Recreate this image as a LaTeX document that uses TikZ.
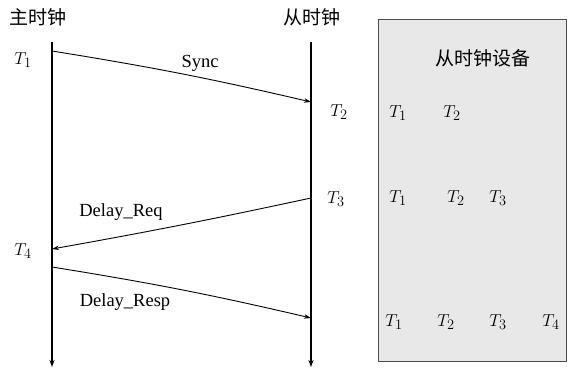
\documentclass[tikz,border=0pt]{standalone}
\usepackage{fontspec}
\setmainfont{Liberation Serif}
\newfontfamily\cjk{Noto Sans CJK SC}
\usetikzlibrary{arrows.meta}
\begin{document}
\begin{tikzpicture}[x=1pt,y=-1pt,
  lifeline/.style={line width=1.2pt,-{Stealth[length=7pt,width=5pt]}},
  msg/.style={line width=0.9pt,-{Stealth[length=7pt,width=4.5pt]}},
  cjklabel/.style={font=\cjk\fontsize{19}{21}\selectfont,inner sep=0pt},
  msglabel/.style={font=\fontsize{18.5}{20}\selectfont,inner sep=0pt},
  tlabel/.style={font=\fontsize{19}{21}\selectfont,inner sep=0pt}]
\useasboundingbox (0,0) rectangle (575,373);
% headers
\node[cjklabel] (master) at (38,17) {主时钟};
\node[cjklabel] (slave) at (312,17) {从时钟};
% lifelines
\coordinate (mtop) at (52,42);
\coordinate (mbot) at (52,367);
\coordinate (stop) at (311,42);
\coordinate (sbot) at (311,367);
\draw[lifeline] (mtop) -- (mbot);
\draw[lifeline] (stop) -- (sbot);
% message endpoints
\coordinate (m1) at (52,51);
\coordinate (s2) at (311,102);
\coordinate (s3) at (311,198);
\coordinate (m4) at (52,249);
\coordinate (m5) at (52,267);
\coordinate (s6) at (311,318);
\draw[msg] (m1) to[bend left=2] (s2);
\draw[msg] (s3) to[bend left=1] (m4);
\draw[msg] (m5) to[bend left=2] (s6);
\node[msglabel] (sync) at (200,63) {Sync};
\node[msglabel] (dreq) at (121,212) {Delay\_Req};
\node[msglabel] (dresp) at (125,302) {Delay\_Resp};
% T labels
\node[tlabel] (t1) at (23,60) {$T_1$};
\node[tlabel] (t2) at (339,112) {$T_2$};
\node[tlabel] (t3) at (336,199) {$T_3$};
\node[tlabel] (t4) at (23,251) {$T_4$};
% device box
\node[draw=black!70,fill=black!9,line width=0.8pt,minimum width=188pt,minimum height=342pt,inner sep=0pt] (dev) at (472,190) {};
\node[cjklabel] (devtitle) at (483,58) {从时钟设备};
\node[tlabel] (a1) at (398,113) {$T_1$};
\node[tlabel] (a2) at (452,113) {$T_2$};
\node[tlabel] (b1) at (398,198) {$T_1$};
\node[tlabel] (b2) at (456,198) {$T_2$};
\node[tlabel] (b3) at (498,198) {$T_3$};
\node[tlabel] (c1) at (394,322) {$T_1$};
\node[tlabel] (c2) at (446,322) {$T_2$};
\node[tlabel] (c3) at (498,322) {$T_3$};
\node[tlabel] (c4) at (551,322) {$T_4$};
\end{tikzpicture}
\end{document}
